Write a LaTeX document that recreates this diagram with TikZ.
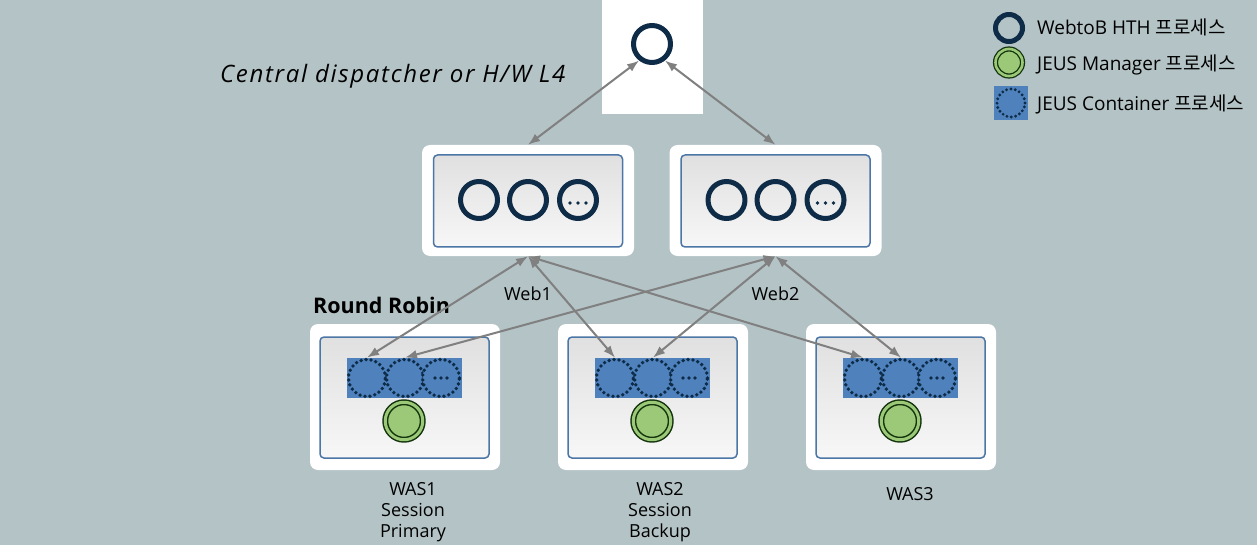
\documentclass[tikz,border=0pt]{standalone}
\usepackage{fontspec}
\setmainfont{Open Sans}
\newfontfamily\kr{Noto Sans CJK KR}
\usetikzlibrary{arrows.meta}
\definecolor{bgcol}{RGB}{180,195,198}
\definecolor{navy}{RGB}{14,44,72}
\definecolor{boxcol}{RGB}{76,118,165}
\definecolor{contblue}{RGB}{79,129,189}
\definecolor{mgrfill}{RGB}{155,201,120}
\definecolor{mgrline}{RGB}{20,52,14}
\definecolor{linkgray}{RGB}{128,128,128}
\begin{document}
\begin{tikzpicture}[x=1pt,y=-1pt,>={Latex[length=12pt,width=9pt]},line join=round,
	font=\fontsize{18}{21}\selectfont,
	outbox/.style={fill=white,rounded corners=8pt,inner sep=0pt},
	inbox/.style={draw=boxcol,line width=1.5pt,rounded corners=4pt,inner sep=0pt,
		top color={rgb,255:red,224;green,224;blue,224},bottom color={rgb,255:red,247;green,247;blue,247}},
	hth/.style={circle,draw=navy,line width=5pt,minimum size=37pt,inner sep=0pt},
	contc/.style={circle,draw=navy,fill=contblue,line width=3.8pt,line cap=round,
		dash pattern=on 0pt off 5pt,minimum size=37pt,inner sep=0pt},
	mgr/.style={circle,draw=mgrline,double=mgrfill,double distance=3pt,line width=1.5pt,
		fill=mgrfill,minimum size=37.5pt,inner sep=0pt},
	link/.style={<->,draw=linkgray,line width=2pt},
	lgtext/.style={anchor=west,inner sep=0pt,font=\fontsize{19}{22}\selectfont}]
	\useasboundingbox[fill=bgcol] (0,0) rectangle (1257,545);
	% central dispatcher
	\node[fill=white,minimum width=101pt,minimum height=114pt,inner sep=0pt] (disp) at (652.5,57) {};
	\node[hth] (lb) at (652,44) {};
	\node[font=\itshape\fontsize{24}{27}\selectfont\addfontfeature{LetterSpace=7},anchor=west,inner sep=0pt]
		(cdtxt) at (220,76) {Central dispatcher or H/W L4};
	% web servers
	\foreach \i/\x in {1/528,2/775.5}{
		\node[outbox,minimum width=212pt,minimum height=111pt] (web\i) at (\x,200.5) {};
		\node[inbox,minimum width=189pt,minimum height=92pt] (web\i in) at (\x,201) {};
		\node[hth] (web\i a) at (\x-49,200) {};
		\node[hth] (web\i b) at (\x,200) {};
		\node[hth] (web\i c) at (\x+50,200) {};
		\foreach \d in {-8,0,8} \fill[navy] ([xshift=\d pt,yshift=-3pt]web\i c.center) circle (1.9pt);
		\node (web\i lbl) at (\x,294) {Web\i};
	}
	% was servers
	\foreach \i/\x in {1/405,2/653,3/901}{
		\node[outbox,minimum width=190pt,minimum height=146pt] (was\i) at (\x,397) {};
		\node[inbox,minimum width=169pt,minimum height=121pt] (was\i in) at (\x-0.5,397.5) {};
		\fill[contblue] (\x-58,358) rectangle (\x+57,398);
		\node[contc] (was\i a) at (\x-38,378) {};
		\node[contc] (was\i b) at (\x,378) {};
		\node[contc] (was\i c) at (\x+36,378) {};
		\foreach \d in {-6,0,6} \fill[navy] ([xshift=\d pt]was\i c.center) circle (1.8pt);
		\node[mgr] (mgr\i) at (\x-1,421) {};
	}
	\node[align=center,inner sep=0pt] (was1lbl) at (413,512) {WAS1\\Session\\Primary};
	\node[align=center,inner sep=0pt] (was2lbl) at (660,512) {WAS2\\Session\\Backup};
	\node[inner sep=0pt] (was3lbl) at (910,494) {WAS3};
	\node[font=\bfseries\fontsize{21.5}{25}\selectfont,anchor=west,inner sep=0pt] (rr) at (313,305) {Round Robin};
	% connectors
	\draw[link] (web1.north) -- (lb.-128);
	\draw[link] (web2.north) -- (lb.-52);
	\draw[link] (web1.south) -- (was1a.north);
	\draw[link] (web1.south) -- (was2a.north);
	\draw[link] (web1.south) -- (was3a.north);
	\draw[link] (web2.south) -- (was1b.north);
	\draw[link] (web2.south) -- (was2b.north);
	\draw[link] (web2.south) -- (was3b.north);
	% legend
	\node[circle,draw=navy,line width=5pt,minimum size=27pt,inner sep=0pt] (lgweb) at (1009,28) {};
	\node[circle,draw=mgrline,double=mgrfill,double distance=2.6pt,line width=1.3pt,fill=mgrfill,
		minimum size=27pt,inner sep=0pt] (lgmgr) at (1009,62.5) {};
	\node[fill=contblue,minimum size=34pt,inner sep=0pt] (lgbox) at (1011,103) {};
	\node[contc,line width=3.2pt,dash pattern=on 0pt off 4.4pt,minimum size=28pt] (lgcont) at (1011,103) {};
	\node[lgtext] (lgwebt) at (1037,27) {WebtoB HTH {\kr 프로세스}};
	\node[lgtext] (lgmgrt) at (1037,65) {JEUS Manager {\kr 프로세스}};
	\node[lgtext] (lgcontt) at (1037,104) {JEUS Container {\kr 프로세스}};
\end{tikzpicture}
\end{document}
